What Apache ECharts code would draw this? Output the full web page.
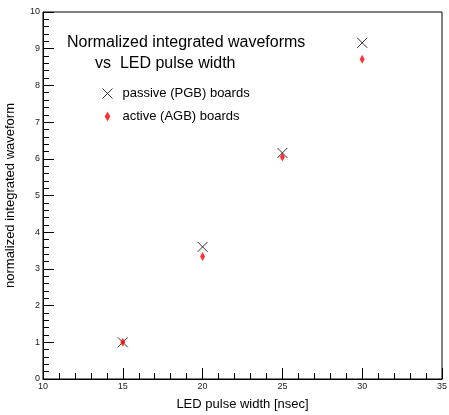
<!DOCTYPE html>
<html>
<head>
<meta charset="utf-8">
<script src="https://cdn.jsdelivr.net/npm/echarts@6/dist/echarts.min.js"></script>
<style>
  html, body { margin: 0; padding: 0; background: #fff; }
  #chart { width: 449px; height: 415px; }
</style>
</head>
<body>
<div id="chart"></div>
<script>
// LED pulse width (nsec)
var pulseWidths = [15, 20, 25, 30];
// normalized integrated waveform
var passivePGB = [1.0, 3.60, 6.16, 9.16];
var activeAGB = [1.0, 3.34, 6.05, 8.71];

var xTicks = [10, 15, 20, 25, 30, 35];
var yTicks = [0, 1, 2, 3, 4, 5, 6, 7, 8, 9, 10];

function pairs(xs, ys) {
    return xs.map(function (x, i) { return [x, ys[i]]; });
}

var font = 'Liberation Sans, Arial, sans-serif';
var crossPath = 'path://M0,0L10,10M10,0L0,10';
var diamondPath = 'path://M2.5,0L5,4.5L2.5,9L0,4.5Z';

var chart = echarts.init(document.getElementById('chart'));

var option = {
    animation: false,
    backgroundColor: '#fff',
    title: [{
        text: 'Normalized integrated waveforms',
        left: 62, top: 30,
        textStyle: { fontFamily: font, fontSize: 16, fontWeight: 'normal', color: '#000' }
    }, {
        text: 'vs  LED pulse width',
        left: 90, top: 51,
        textStyle: { fontFamily: font, fontSize: 16, fontWeight: 'normal', color: '#000' }
    }],
    legend: {
        orient: 'vertical',
        left: 95, top: 81,
        itemWidth: 20, itemHeight: 10,
        itemGap: 9,
        textStyle: { fontFamily: font, fontSize: 13, color: '#000' },
        data: [
            { name: 'passive (PGB) boards', icon: crossPath,
              itemStyle: { color: 'none', borderColor: '#000', borderWidth: 1 } },
            { name: 'active (AGB) boards', icon: diamondPath,
              itemStyle: { color: '#f00', borderWidth: 0 } }
        ]
    },
    grid: {
        left: 43, right: 7, top: 12, bottom: 36,
        outerBoundsMode: 'none',
        show: true, borderColor: '#000', borderWidth: 1
    },
    xAxis: {
        type: 'value',
        min: xTicks[0], max: xTicks[xTicks.length - 1], interval: 5,
        name: 'LED pulse width [nsec]',
        nameLocation: 'middle', nameGap: 19,
        nameTextStyle: { fontFamily: font, fontSize: 13, color: '#000' },
        axisLine: { lineStyle: { color: '#000', width: 1 } },
        axisTick: { inside: true, length: 11, lineStyle: { color: '#000' } },
        minorTick: { show: true, splitNumber: 5, length: 6, lineStyle: { color: '#000' } },
        axisLabel: { fontFamily: font, fontSize: 9, color: '#222', margin: 3 },
        splitLine: { show: false }
    },
    yAxis: {
        type: 'value',
        min: yTicks[0], max: yTicks[yTicks.length - 1], interval: 1,
        name: 'normalized integrated waveform',
        nameLocation: 'middle', nameGap: 26,
        nameTextStyle: { fontFamily: font, fontSize: 13, color: '#000' },
        axisLine: { lineStyle: { color: '#000', width: 1 } },
        axisTick: { inside: true, length: 11, lineStyle: { color: '#000' } },
        minorTick: { show: true, splitNumber: 5, length: 6, lineStyle: { color: '#000' } },
        axisLabel: { fontFamily: font, fontSize: 9, color: '#222', margin: 3 },
        splitLine: { show: false }
    },
    series: [{
        name: 'passive (PGB) boards',
        type: 'scatter',
        symbol: crossPath,
        symbolSize: 10,
        itemStyle: { color: 'none', borderColor: '#000', borderWidth: 1 },
        data: pairs(pulseWidths, passivePGB),
        z: 2
    }, {
        name: 'active (AGB) boards',
        type: 'scatter',
        symbol: diamondPath,
        symbolSize: [5, 9],
        itemStyle: { color: '#f00' },
        data: pairs(pulseWidths, activeAGB),
        z: 3
    }]
};

chart.setOption(option);
</script>
</body>
</html>
